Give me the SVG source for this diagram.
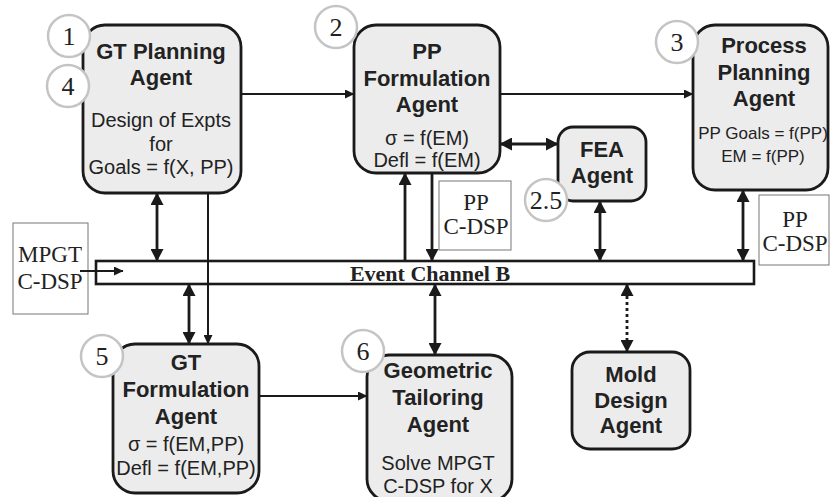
<svg xmlns="http://www.w3.org/2000/svg" width="830" height="497" viewBox="0 0 830 497">
<defs>
<style>
.box{fill:#ececec;stroke:#1a1a1a;stroke-width:2.8}
.num{fill:#fff;stroke:#c4c4c4;stroke-width:2.5}
.numt{font-family:"Liberation Serif",serif;font-size:26px;fill:#222;text-anchor:middle}
.t{font-family:"Liberation Sans",Arial,sans-serif;font-weight:bold;font-size:22px;fill:#222;text-anchor:middle}
.s{font-family:"Liberation Sans",Arial,sans-serif;font-size:20px;fill:#222;text-anchor:middle}
.s17{font-family:"Liberation Sans",Arial,sans-serif;font-size:17px;fill:#222;text-anchor:middle}
.doc{fill:#fff;stroke:#777;stroke-width:1}
.doct{font-family:"Liberation Serif",serif;font-size:23px;fill:#222;text-anchor:middle}
.thin{stroke:#1a1a1a;stroke-width:2;fill:none}
.thick{stroke:#1a1a1a;stroke-width:2.8;fill:none}
.dot{stroke:#1a1a1a;stroke-width:2.8;fill:none;stroke-dasharray:3 3}
</style>
<marker id="big" markerUnits="userSpaceOnUse" markerWidth="13" markerHeight="13" refX="12" refY="6.5" orient="auto-start-reverse" viewBox="0 0 13 13">
<path d="M0,0 L12.5,6.5 L0,13 z" fill="#1a1a1a"/>
</marker>
<marker id="sm" markerUnits="userSpaceOnUse" markerWidth="10" markerHeight="9" refX="9" refY="4.5" orient="auto" viewBox="0 0 10 9">
<path d="M0,0 L9.5,4.5 L0,9 z" fill="#1a1a1a"/>
</marker>
</defs>

<g id="mpgt-cdsp">
<rect class="doc" x="13" y="223" width="75" height="91"/>
<text class="doct" x="50" y="262">MPGT</text>
<text class="doct" x="50" y="289">C-DSP</text>
</g>
<g id="pp-cdsp-mid">
<rect class="doc" x="439" y="181" width="72" height="69"/>
<text class="doct" x="476" y="210">PP</text>
<text class="doct" x="476" y="234">C-DSP</text>
</g>
<g id="pp-cdsp-right">
<rect class="doc" x="759" y="195" width="70" height="70"/>
<text class="doct" x="795" y="227">PP</text>
<text class="doct" x="795" y="251">C-DSP</text>
</g>

<g id="event-channel">
<rect x="96" y="261" width="658" height="23" fill="#fff" stroke="#1a1a1a" stroke-width="2.6"/>
<text x="430" y="281" font-family="Liberation Serif,serif" font-weight="bold" font-size="22" fill="#222" text-anchor="middle">Event Channel B</text>
</g>

<g id="connectors">
<line class="thin" x1="241" y1="94" x2="354" y2="94" marker-end="url(#sm)"/>
<line class="thin" x1="500" y1="94" x2="693" y2="94" marker-end="url(#sm)"/>
<line class="thick" x1="500" y1="144" x2="558" y2="144" marker-start="url(#big)" marker-end="url(#big)"/>
<line class="thick" x1="157" y1="193" x2="157" y2="261" marker-start="url(#big)" marker-end="url(#big)"/>
<line class="thin" x1="208" y1="193" x2="208" y2="344" marker-end="url(#sm)"/>
<line class="thin" x1="80" y1="271" x2="123" y2="271" marker-end="url(#sm)"/>
<line class="thick" x1="189" y1="284" x2="189" y2="344" marker-start="url(#big)" marker-end="url(#big)"/>
<line class="thick" x1="405" y1="261" x2="405" y2="173" marker-end="url(#big)"/>
<line class="thick" x1="432" y1="173" x2="432" y2="261" marker-end="url(#big)"/>
<line class="thick" x1="600" y1="201" x2="600" y2="261" marker-start="url(#big)" marker-end="url(#big)"/>
<line class="thick" x1="743" y1="190" x2="743" y2="261" marker-start="url(#big)" marker-end="url(#big)"/>
<line class="thick" x1="435" y1="284" x2="435" y2="355" marker-start="url(#big)" marker-end="url(#big)"/>
<line class="dot" x1="627" y1="284" x2="627" y2="352" marker-start="url(#big)" marker-end="url(#big)"/>
<line class="thin" x1="259" y1="396" x2="367" y2="396" marker-end="url(#sm)"/>
</g>

<g id="gt-planning">
<rect class="box" x="83" y="25" width="158" height="168" rx="22"/>
<text class="t" x="161" y="59">GT Planning</text>
<text class="t" x="161" y="85">Agent</text>
<text class="s" x="161" y="127">Design of Expts</text>
<text class="s" x="161" y="151">for</text>
<text class="s" x="161" y="174">Goals = f(X, PP)</text>
<circle class="num" cx="69" cy="36" r="21"/>
<text class="numt" x="69" y="45">1</text>
<circle class="num" cx="68" cy="86" r="21"/>
<text class="numt" x="68" y="95">4</text>
</g>

<g id="pp-formulation">
<rect class="box" x="354" y="25" width="146" height="148" rx="22"/>
<text class="t" x="427" y="59">PP</text>
<text class="t" x="427" y="86">Formulation</text>
<text class="t" x="427" y="112">Agent</text>
<text class="s" x="427" y="145">σ = f(EM)</text>
<text class="s" x="427" y="167">Defl = f(EM)</text>
<circle class="num" cx="336" cy="27" r="21"/>
<text class="numt" x="336" y="36">2</text>
</g>

<g id="process-planning">
<rect class="box" x="693" y="25" width="135" height="165" rx="22"/>
<text class="t" x="764" y="53">Process</text>
<text class="t" x="764" y="80">Planning</text>
<text class="t" x="764" y="106">Agent</text>
<text class="s17" x="763" y="139">PP Goals = f(PP)</text>
<text class="s17" x="763" y="162">EM = f(PP)</text>
<circle class="num" cx="677" cy="42" r="21"/>
<text class="numt" x="677" y="51">3</text>
</g>

<g id="fea">
<rect class="box" x="558" y="127" width="88" height="74" rx="15"/>
<text class="t" x="602" y="157">FEA</text>
<text class="t" x="602" y="183">Agent</text>
<circle class="num" cx="546" cy="200" r="21"/>
<text class="numt" x="546" y="209">2.5</text>
</g>

<g id="gt-formulation">
<rect class="box" x="113" y="344" width="146" height="149" rx="22"/>
<text class="t" x="186" y="370">GT</text>
<text class="t" x="186" y="397">Formulation</text>
<text class="t" x="186" y="424">Agent</text>
<text class="s" x="186" y="451">σ = f(EM,PP)</text>
<text class="s" x="186" y="475">Defl = f(EM,PP)</text>
<circle class="num" cx="102" cy="356" r="21"/>
<text class="numt" x="102" y="365">5</text>
</g>

<g id="geometric-tailoring">
<rect class="box" x="367" y="355" width="145" height="146" rx="22"/>
<text class="t" x="438" y="378">Geometric</text>
<text class="t" x="438" y="405">Tailoring</text>
<text class="t" x="438" y="432">Agent</text>
<text class="s" x="438" y="470">Solve MPGT</text>
<text class="s" x="438" y="493">C-DSP for X</text>
<circle class="num" cx="363" cy="351" r="21"/>
<text class="numt" x="363" y="360">6</text>
</g>

<g id="mold-design">
<rect class="box" x="572" y="352" width="118" height="97" rx="18"/>
<text class="t" x="631" y="382">Mold</text>
<text class="t" x="631" y="408">Design</text>
<text class="t" x="631" y="433">Agent</text>
</g>
</svg>
